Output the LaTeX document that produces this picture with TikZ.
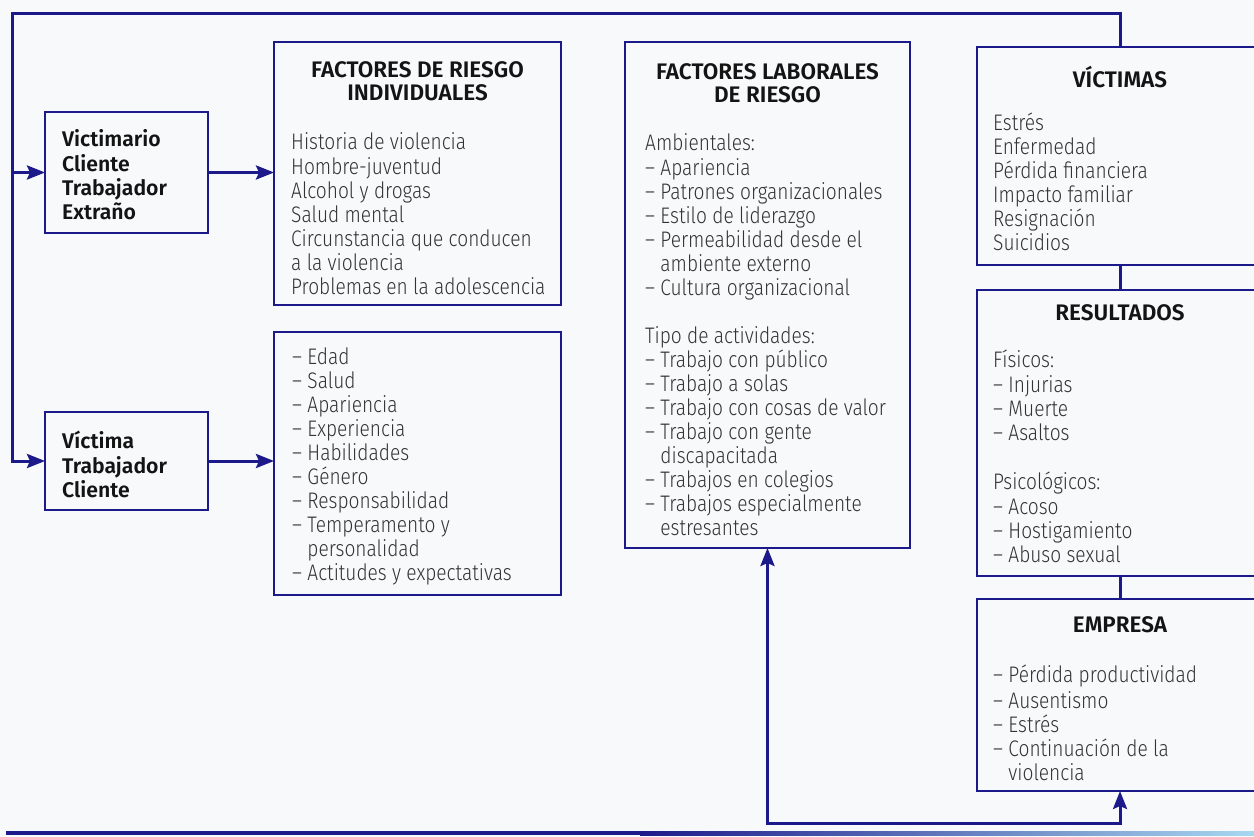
\documentclass[tikz,border=0pt]{standalone}
\usepackage{fontspec}
\setmainfont{Fira Sans}
\newfontfamily\bodyfont[FakeStretch=0.85]{Fira Sans Light}
\newfontfamily\headfont{Fira Sans SemiBold}
\usetikzlibrary{arrows.meta,calc}
\definecolor{navy}{HTML}{1C1A8A}
\definecolor{bg}{HTML}{F7F9FB}
\definecolor{bodytxt}{HTML}{333333}
\definecolor{headtxt}{HTML}{141414}
\definecolor{lightblue}{HTML}{A8D8F0}
\tikzset{
  box/.style={draw=navy, line width=1.9pt, rectangle, inner sep=0pt, outer sep=0pt, anchor=north west},
  conn/.style={draw=navy, line width=3pt},
  arr/.style={conn, -{Stealth[length=18pt,width=14pt,inset=3pt]}},
  biarr/.style={conn, {Stealth[length=18pt,width=14pt,inset=3pt]}-{Stealth[length=18pt,width=14pt,inset=3pt]}},
  body/.style={anchor=north west, inner sep=0pt, align=left, text=bodytxt, font=\bodyfont\fontsize{22.5}{24}\selectfont},
  head/.style={anchor=north, inner sep=0pt, align=center, text=headtxt, font=\headfont\fontsize{22.5}{23}\selectfont},
  actor/.style={anchor=north west, inner sep=0pt, align=left, text=headtxt, font=\headfont\fontsize{21.2}{24}\selectfont},
}
\newcommand{\hang}{\hphantom{– }}
\begin{document}
\begin{tikzpicture}[x=1pt,y=-1pt]
\useasboundingbox (0,0) rectangle (1254,837);
\fill[bg] (0,0) rectangle (1254,837);
\clip (0,0) rectangle (1254,837);

% boxes
\node[box, minimum width=163pt, minimum height=121pt] (victimario) at (45,112) {};
\node[box, minimum width=163pt, minimum height=98pt] (victima) at (45,412) {};
\node[box, minimum width=287pt, minimum height=263pt] (fri) at (274,42) {};
\node[box, minimum width=287pt, minimum height=263pt] (fvi) at (274,332) {};
\node[box, minimum width=285pt, minimum height=506pt] (lab) at (625,42) {};
\node[box, minimum width=286pt, minimum height=218pt] (vict) at (977,47) {};
\node[box, minimum width=286pt, minimum height=286pt] (res) at (977,290) {};
\node[box, minimum width=286pt, minimum height=192pt] (emp) at (977,599) {};

% texts
\node[actor] (tvictimario) at (62,129.5) {\strut Victimario\\Cliente\\Trabajador\\Extraño};
\node[actor] (tvictima) at (62,430.5) {\strut Víctima\\Trabajador\\Cliente};

\node[head] (hfri) at (417.5,61.4) {\strut FACTORES DE RIESGO\\INDIVIDUALES};
\node[body] (bfri) at (291,132.2) {\strut Historia de violencia\\Hombre-juventud\\Alcohol y drogas\\Salud mental\\Circunstancia que conducen\\a la violencia\\Problemas en la adolescencia};

\node[body] (bfvi) at (292,347.2) {\strut – Edad\\– Salud\\– Apariencia\\– Experiencia\\– Habilidades\\– Género\\– Responsabilidad\\– Temperamento y\\\hang personalidad\\– Actitudes y expectativas};

\node[head] (hlab) at (767.5,63.4) {\strut FACTORES LABORALES\\DE RIESGO};
\node[body] (blab) at (645,133.2) {\strut Ambientales:\\– Apariencia\\– Patrones organizacionales\\– Estilo de liderazgo\\– Permeabilidad desde el\\\hang ambiente externo\\– Cultura organizacional\\[24pt]Tipo de actividades:\\– Trabajo con público\\– Trabajo a solas\\– Trabajo con cosas de valor\\– Trabajo con gente\\\hang discapacitada\\– Trabajos en colegios\\– Trabajos especialmente\\\hang estresantes};

\node[head] (hvict) at (1120,66.4) {\strut VÍCTIMAS};
\node[body] (bvict) at (993,113.2) {\strut Estrés\\Enfermedad\\Pérdida financiera\\Impacto familiar\\Resignación\\Suicidios};

\node[head] (hres) at (1120,304.4) {\strut RESULTADOS};
\node[body, font=\bodyfont\fontsize{22.5}{24.4}\selectfont] (bres) at (993,350) {\strut Físicos:\\– Injurias\\– Muerte\\– Asaltos\\[24.4pt]Psicológicos:\\– Acoso\\– Hostigamiento\\– Abuso sexual};

\node[head] (hemp) at (1120,616.4) {\strut EMPRESA};
\node[body] (bemp) at (993,665.2) {\strut – Pérdida productividad\\– Ausentismo\\– Estrés\\– Continuación de la\\\hang violencia};

% connector coordinates
\coordinate (tl) at (12,14);
\coordinate (bot) at (768,823);

% feedback loop from VICTIMAS to the actors
\draw[arr] (vict.north) |- (tl) |- (victima.west);
\draw[arr] (tl |- victimario.west) -- (victimario.west);
\draw[arr] (victimario.east) -- (victimario.east -| fri.west);
\draw[arr] (victima.east) -- (victima.east -| fvi.west);

% right column links
\draw[conn] (vict.south) -- (res.north);
\draw[conn] (res.south) -- (emp.north);

% bottom link
\draw[biarr] (lab.south) -- (lab.south |- bot) -- (emp.south |- bot) -- (emp.south);

% page rule
\fill[navy] (6,831) rectangle (640,835);
\shade[left color=navy, right color=lightblue] (640,831) rectangle (1254,835);
\end{tikzpicture}
\end{document}
